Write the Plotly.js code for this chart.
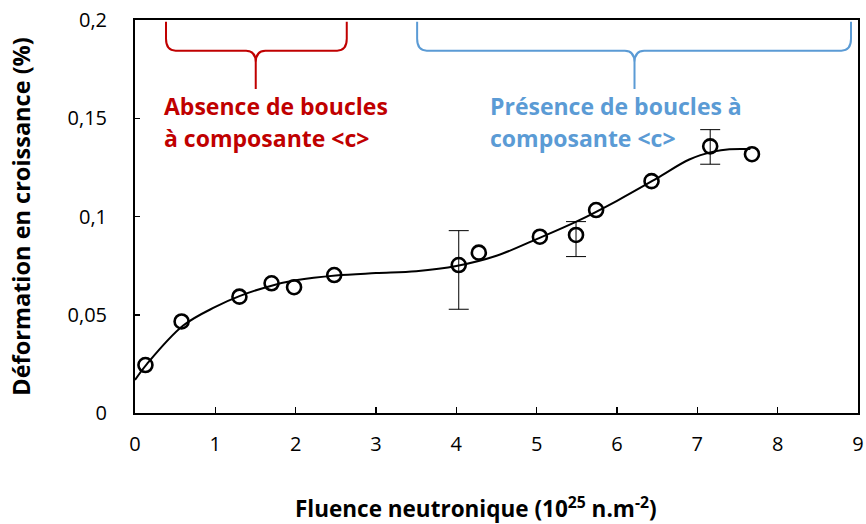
<!DOCTYPE html>
<html>
<head>
<meta charset="utf-8">
<script src="https://cdn.plot.ly/plotly-3.0.1.min.js"></script>
<style>html,body{margin:0;padding:0;background:#fff;}#chart{width:866px;height:524px;}</style>
</head>
<body>
<div id="chart"></div>
<script>
// Measured points
const fluence = [0.13, 0.58, 1.30, 1.70, 1.98, 2.48, 4.03, 4.28, 5.04, 5.49, 5.74, 6.43, 7.16, 7.68];
const deformation = [0.0244, 0.0466, 0.0592, 0.0660, 0.0640, 0.0702, 0.0753, 0.0816, 0.0897, 0.0906, 0.1033, 0.1180, 0.1357, 0.1317];
// NaN = no error bar for that point
const errPlus = [NaN, NaN, NaN, NaN, NaN, NaN, 0.0175, NaN, NaN, 0.0068, NaN, NaN, 0.0085, NaN];
const errMinus = [NaN, NaN, NaN, NaN, NaN, NaN, 0.0225, NaN, NaN, 0.0110, NaN, NaN, 0.0091, NaN];

// Trend curve
const curveX = [0, 0.15, 0.6, 1.0, 1.3, 1.7, 2.0, 2.5, 3.0, 3.5, 4.0, 4.5, 5.0, 5.5, 6.0, 6.5, 6.9, 7.2, 7.4, 7.66];
const curveY = [0.0168, 0.0250, 0.0445, 0.0540, 0.0595, 0.0648, 0.0675, 0.0700, 0.0712, 0.0722, 0.0748, 0.0800, 0.0885, 0.0975, 0.1080, 0.1195, 0.1290, 0.1330, 0.1342, 0.1343];

const xTicks = [0, 1, 2, 3, 4, 5, 6, 7, 8, 9];
const yTicks = [0, 0.05, 0.1, 0.15, 0.2];
const yTickText = ['0', '0,05', '0,1', '0,15', '0,2'];

const redText = ['Absence de boucles', 'à composante &lt;c&gt;'];
const blueText = ['Présence de boucles à', 'composante &lt;c&gt;'];
const xTitle = 'Fluence neutronique (10<sup>25</sup> n.m<sup>-2</sup>)';
const yTitle = 'Déformation en croissance (%)';

const RED = '#C00000', BLUE = '#5B9BD5';
const FONT = 'Open Sans, DejaVu Sans, sans-serif';

function brace(x0, x1, xm, yt, yh, yb, dx, dy) {
  return 'M' + x0 + ',' + yt + ' L' + x0 + ',' + (yh + dy) +
    ' Q' + x0 + ',' + yh + ' ' + (x0 + dx) + ',' + yh +
    ' L' + (xm - dx) + ',' + yh +
    ' Q' + xm + ',' + yh + ' ' + xm + ',' + (yh - dy) +
    ' L' + xm + ',' + yb +
    ' M' + xm + ',' + (yh - dy) +
    ' Q' + xm + ',' + yh + ' ' + (xm + dx) + ',' + yh +
    ' L' + (x1 - dx) + ',' + yh +
    ' Q' + x1 + ',' + yh + ' ' + x1 + ',' + (yh + dy) +
    ' L' + x1 + ',' + yt;
}

const traces = [
  {
    x: curveX, y: curveY, type: 'scatter', mode: 'lines',
    line: {color: '#000', width: 2, shape: 'spline', smoothing: 1},
    hoverinfo: 'skip', showlegend: false
  },
  {
    x: fluence, y: deformation, type: 'scatter', mode: 'markers',
    marker: {symbol: 'circle-open', size: 14, color: '#000', line: {color: '#000', width: 2.6}},
    error_y: {type: 'data', symmetric: false, array: errPlus, arrayminus: errMinus, color: '#000', thickness: 1, width: 10, visible: true},
    showlegend: false
  }
];

const layout = {
  width: 866, height: 524,
  margin: {l: 135, r: 8, t: 20, b: 111},
  paper_bgcolor: '#fff', plot_bgcolor: '#fff',
  font: {family: FONT, color: '#000'},
  showlegend: false,
  xaxis: {
    range: [0, 9], tickvals: xTicks, ticks: 'inside', ticklen: 6, tickwidth: 1.5, tickcolor: '#000',
    showgrid: false, zeroline: false, showline: true, linecolor: '#000', linewidth: 2, mirror: true,
    tickfont: {family: FONT, size: 20, color: '#000'}, ticklabelstandoff: 12
  },
  yaxis: {
    range: [0, 0.2], tickvals: yTicks, ticktext: yTickText, ticks: 'inside', ticklen: 5, tickwidth: 1.5, tickcolor: '#000',
    showgrid: false, zeroline: false, showline: true, linecolor: '#000', linewidth: 2, mirror: true,
    tickfont: {family: FONT, size: 20, color: '#000'}, ticklabelstandoff: 22,
    title: {text: yTitle, font: {family: FONT, size: 23.5, color: '#000', weight: 'bold'}, standoff: 30}
  },
  shapes: [
    {type: 'path', xref: 'x', yref: 'y', path: brace(0.386, 2.636, 1.503, 0.1991, 0.1844, 0.1649, 0.12, 0.006), line: {color: RED, width: 2}},
    {type: 'path', xref: 'x', yref: 'y', path: brace(3.512, 8.913, 6.218, 0.1991, 0.1844, 0.1649, 0.12, 0.006), line: {color: BLUE, width: 2}}
  ],
  annotations: [
    {text: '<b>' + redText[0] + '</b>', x: 0.33, y: 0.1562, xref: 'x', yref: 'y', xanchor: 'left', yanchor: 'middle', showarrow: false, font: {family: FONT, size: 23, color: RED}},
    {text: '<b>' + redText[1] + '</b>', x: 0.33, y: 0.1400, xref: 'x', yref: 'y', xanchor: 'left', yanchor: 'middle', showarrow: false, font: {family: FONT, size: 23, color: RED}},
    {text: '<b>' + blueText[0] + '</b>', x: 4.40, y: 0.1562, xref: 'x', yref: 'y', xanchor: 'left', yanchor: 'middle', showarrow: false, font: {family: FONT, size: 23, color: BLUE}},
    {text: '<b>' + blueText[1] + '</b>', x: 4.40, y: 0.1400, xref: 'x', yref: 'y', xanchor: 'left', yanchor: 'middle', showarrow: false, font: {family: FONT, size: 23, color: BLUE}},
    {text: '<b>' + xTitle + '</b>', x: 0.5, y: 0, xref: 'paper', yref: 'paper', showarrow: false, font: {family: FONT, size: 22.5, color: '#000'}}
  ]
};
// place the x-axis title at its pixel position (centre x=476, y=507)
layout.annotations[4].x = (476 - 135) / (866 - 135 - 8);
layout.annotations[4].y = -(507 - 413) / (524 - 20 - 111);
layout.annotations[4].yanchor = 'middle';

Plotly.newPlot('chart', traces, layout, {displayModeBar: false, staticPlot: true});
</script>
</body>
</html>
